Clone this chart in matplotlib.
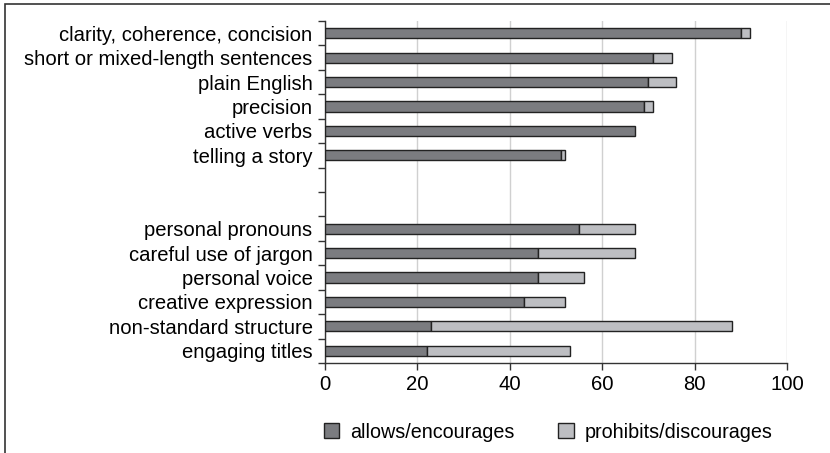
import matplotlib.pyplot as plt
from matplotlib.patches import Rectangle, Patch

# survey items, top to bottom; empty strings are the gap rows
categories = [
    "clarity, coherence, concision",
    "short or mixed-length sentences",
    "plain English",
    "precision",
    "active verbs",
    "telling a story",
    "",
    "",
    "personal pronouns",
    "careful use of jargon",
    "personal voice",
    "creative expression",
    "non-standard structure",
    "engaging titles",
]
allows = [90, 71, 70, 69, 67, 51, 0, 0, 55, 46, 46, 43, 23, 22]
prohibits = [2, 4, 6, 2, 0, 1, 0, 0, 12, 21, 10, 9, 65, 31]
xticks = [0, 20, 40, 60, 80, 100]

dark = "#7b7c80"
light = "#bdbec2"
edge = "#222222"

plt.rcParams["font.family"] = ["Liberation Sans", "DejaVu Sans"]
fs = 14.6

W, H = 830, 453
fig = plt.figure(figsize=(W / 100, H / 100), dpi=100)
ax = fig.add_axes([325 / W, 1 - 363 / H, (787 - 325) / W, (363 - 21) / H])

# outer frame (right/bottom edges fall outside the image)
fig.patches.append(Rectangle((5 / W, -0.1), 1.2, 1 - 4 / H + 0.1,
                             transform=fig.transFigure, fill=False,
                             edgecolor="#333333", linewidth=1.2))

y = list(range(len(categories)))
h = 0.42
for i in y:
    if allows[i] == 0 and prohibits[i] == 0:
        continue
    ax.barh(i, allows[i], height=h, color=dark, edgecolor=edge, linewidth=1.0, zorder=3)
    if prohibits[i] > 0:
        ax.barh(i, prohibits[i], left=allows[i], height=h, color=light,
                edgecolor=edge, linewidth=1.0, zorder=3)

ax.set_ylim(len(categories) - 0.5, -0.5)
ax.set_xlim(0, 100)
ax.set_xticks(xticks)
ax.set_yticks(y)
ax.set_yticklabels(categories, fontsize=fs)
ax.set_yticks([i - 0.5 for i in range(len(categories) + 1)], minor=True)
ax.tick_params(axis="y", which="major", length=0, pad=9)
ax.tick_params(axis="y", which="minor", length=5, color="#333333", width=1)
ax.tick_params(axis="x", length=5, color="#333333", width=1, labelsize=fs, pad=4)
ax.grid(axis="x", color="#d0d0d0", linewidth=1, zorder=0)

for s in ["top", "right"]:
    ax.spines[s].set_visible(False)
for s in ["left", "bottom"]:
    ax.spines[s].set_color("#333333")
    ax.spines[s].set_linewidth(1)

handles = [Patch(facecolor=dark, edgecolor=edge, label="allows/encourages"),
           Patch(facecolor=light, edgecolor=edge, label="prohibits/discourages")]
fig.legend(handles=handles, loc="center", bbox_to_anchor=(548 / W, 1 - 432 / H),
           ncol=2, frameon=False, fontsize=14.2, handlelength=0.8, handleheight=0.8,
           columnspacing=2.2, handletextpad=0.55, borderpad=0, borderaxespad=0)

fig.savefig("out.png", dpi=100)
